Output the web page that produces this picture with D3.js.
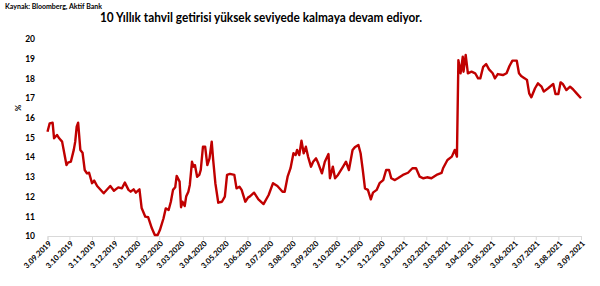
<!DOCTYPE html>
<html><head><meta charset="utf-8">
<script src="https://cdn.jsdelivr.net/npm/d3@7/dist/d3.min.js"></script>
<style>
body{margin:0;background:#fff;}
text{font-family:Lato,"Open Sans",sans-serif;}
</style></head><body>
<svg id="c" width="600" height="286"></svg>
<script>
const dates = ["2019-09-03","2019-09-06","2019-09-10","2019-09-12","2019-09-16","2019-09-19","2019-09-23","2019-09-26","2019-09-29","2019-10-01",
"2019-10-05","2019-10-09","2019-10-11","2019-10-13","2019-10-15","2019-10-18","2019-10-21","2019-10-24","2019-10-27","2019-10-30",
"2019-11-03","2019-11-06","2019-11-10","2019-11-19","2019-11-28","2019-12-03","2019-12-09","2019-12-14","2019-12-18","2019-12-23",
"2019-12-26","2019-12-30","2020-01-02","2020-01-07","2020-01-10","2020-01-15","2020-01-19","2020-01-24","2020-01-28","2020-02-01",
"2020-02-04","2020-02-09","2020-02-12","2020-02-16","2020-02-19","2020-02-22","2020-02-25","2020-02-27","2020-03-02","2020-03-04",
"2020-03-06","2020-03-09","2020-03-11","2020-03-14","2020-03-16","2020-03-19","2020-03-21","2020-03-23","2020-03-26","2020-03-29",
"2020-03-31","2020-04-03","2020-04-06","2020-04-09","2020-04-12","2020-04-15","2020-04-17","2020-04-20","2020-04-24","2020-04-29",
"2020-05-03","2020-05-06","2020-05-10","2020-05-16","2020-05-19","2020-05-23","2020-05-26","2020-05-31","2020-06-04","2020-06-06",
"2020-06-12","2020-06-18","2020-06-25","2020-07-02","2020-07-08","2020-07-14","2020-07-21","2020-07-24","2020-07-28","2020-08-01",
"2020-08-05","2020-08-08","2020-08-10","2020-08-13","2020-08-16","2020-08-19","2020-08-22","2020-08-25","2020-08-29","2020-09-01",
"2020-09-05","2020-09-08","2020-09-13","2020-09-17","2020-09-22","2020-09-24","2020-09-28","2020-10-01","2020-10-05","2020-10-12",
"2020-10-16","2020-10-20","2020-10-25","2020-10-28","2020-11-02","2020-11-05","2020-11-08","2020-11-11","2020-11-15","2020-11-19",
"2020-11-22","2020-11-27","2020-12-01","2020-12-06","2020-12-10","2020-12-14","2020-12-17","2020-12-22","2020-12-26","2021-01-02",
"2021-01-09","2021-01-15","2021-01-20","2021-01-25","2021-01-30","2021-02-04","2021-02-10","2021-02-17","2021-02-24","2021-02-26",
"2021-03-04","2021-03-10","2021-03-14","2021-03-17","2021-03-19","2021-03-22","2021-03-25","2021-03-26","2021-03-29","2021-04-01",
"2021-04-06","2021-04-11","2021-04-15","2021-04-18","2021-04-22","2021-04-26","2021-04-30","2021-05-05","2021-05-08","2021-05-12",
"2021-05-19","2021-05-24","2021-05-28","2021-06-01","2021-06-07","2021-06-10","2021-06-13","2021-06-18","2021-06-21","2021-06-24",
"2021-06-27","2021-07-02","2021-07-06","2021-07-11","2021-07-14","2021-07-20","2021-07-27","2021-07-30","2021-08-03","2021-08-06",
"2021-08-09","2021-08-14","2021-08-19","2021-08-23","2021-08-28","2021-09-03"];
const yields = [15.29,15.72,15.75,14.96,15.13,14.96,14.79,14.2,13.6,13.72,
13.77,14.37,14.79,15.55,15.75,14.37,14.23,13.35,13.18,13.21,
12.68,12.81,12.54,12.17,12.54,12.3,12.47,12.42,12.71,12.34,
12.25,12.37,12.2,12.37,11.42,10.98,10.95,10.39,10.05,10.05,
10.3,10.9,11.4,11.32,11.74,12.34,12.47,13.05,12.76,11.46,
11.74,11.52,12.0,12.25,12.59,13.77,13.52,13.6,13.01,13.1,
13.35,14.53,14.53,13.6,13.94,14.79,13.86,12.68,11.69,11.74,
12.0,13.1,13.15,13.1,12.42,12.5,12.34,11.74,11.96,12.0,
12.2,11.86,11.62,12.08,12.68,12.54,12.25,12.25,13.01,13.44,
14.2,14.11,14.37,14.11,14.84,14.2,14.53,14.03,13.52,13.77,
13.94,13.69,13.18,13.77,14.16,12.93,13.52,12.93,13.1,13.52,
13.77,13.35,14.37,14.5,14.62,14.2,13.35,12.42,12.34,11.86,
12.2,12.34,12.68,12.84,13.35,13.35,12.93,12.84,12.93,13.1,
13.21,13.44,13.44,13.01,12.93,12.98,12.93,13.1,13.2,13.44,
13.86,14.03,14.37,14.03,18.93,18.26,19.1,18.34,19.19,18.26,
18.34,18.26,18.0,18.0,18.59,18.73,18.46,18.26,18.0,18.22,
18.17,18.26,18.63,18.9,18.9,18.26,18.12,18.0,17.92,17.24,
17.04,17.5,17.75,17.58,17.33,17.5,17.72,17.21,17.21,17.8,
17.72,17.41,17.58,17.45,17.24,16.99];
const yTicks = [10,11,12,13,14,15,16,17,18,19,20];
const xTickDates = ["2019-09-03","2019-10-03","2019-11-03","2019-12-03","2020-01-03","2020-02-03","2020-03-03","2020-04-03","2020-05-03","2020-06-03","2020-07-03","2020-08-03","2020-09-03","2020-10-03","2020-11-03","2020-12-03","2021-01-03","2021-02-03","2021-03-03","2021-04-03","2021-05-03","2021-06-03","2021-07-03","2021-08-03","2021-09-03"];
const titleText = "10 Yıllık tahvil getirisi yüksek seviyede kalmaya devam ediyor.";
const sourceText = "Kaynak: Bloomberg, Aktif Bank";

const parse = d3.timeParse("%Y-%m-%d");
const data = dates.map((d,i)=>({date:parse(d), v:yields[i]}));
const svg = d3.select("#c");
const x = d3.scaleTime().domain([parse(dates[0]), parse(dates[dates.length-1])]).range([47.5, 581]);
const y = d3.scaleLinear().domain([10,20]).range([236, 39]);

svg.append("text").attr("x",5).attr("y",9).attr("font-size",7).attr("font-weight","bold").attr("fill","#000").text(sourceText);
svg.append("text").attr("x",100).attr("y",22).attr("font-size",13).attr("font-weight","bold").attr("fill","#000")
  .attr("textLength",322).attr("lengthAdjust","spacingAndGlyphs").text(titleText);

// y axis labels
const ya = svg.append("g").attr("transform","translate(35,0)")
  .call(d3.axisLeft(y).tickValues(yTicks).tickSize(0).tickPadding(0).tickFormat(d3.format("d")));
ya.select(".domain").remove();
ya.selectAll("text").attr("font-size",8.5).attr("font-weight","bold").attr("fill","#000").style("font-family","Lato, sans-serif");

svg.append("text").attr("transform","translate(21,108) rotate(-90)").attr("text-anchor","middle")
  .attr("font-size",8).attr("font-weight","bold").text("%");

// x axis
const xa = svg.append("g").attr("transform","translate(0,236)")
  .call(d3.axisBottom(x).tickValues(xTickDates.map(parse)).tickSize(4).tickFormat(d3.timeFormat("%-d.%m.%Y")));
xa.select(".domain").attr("stroke","#d9d9d9");
xa.selectAll(".tick line").attr("stroke","#d9d9d9");
xa.selectAll("text").attr("font-size",7.8).attr("font-weight","bold").attr("fill","#000")
  .style("font-family","Lato, sans-serif")
  .attr("text-anchor","end").attr("dy",0).attr("y",0)
  .attr("transform","translate(4,8) rotate(-45)");

svg.append("path").datum(data)
  .attr("fill","none").attr("stroke","#C00000").attr("stroke-width",2.4).attr("stroke-linejoin","round")
  .attr("d", d3.line().x(d=>x(d.date)).y(d=>y(d.v)));
</script></body></html>
